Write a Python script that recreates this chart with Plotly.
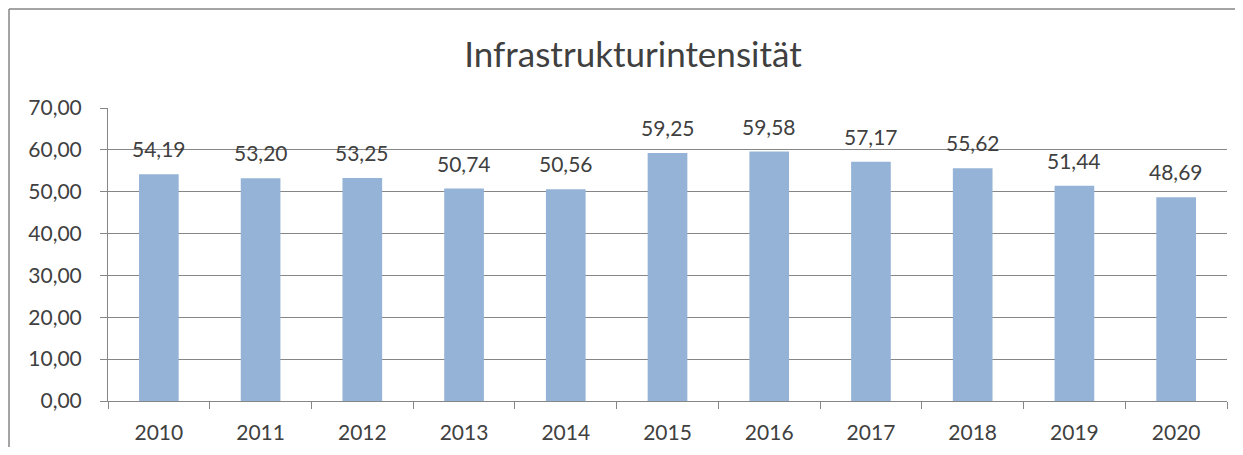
import plotly.graph_objects as go

years = ["2010", "2011", "2012", "2013", "2014", "2015", "2016", "2017", "2018", "2019", "2020"]
values = [54.19, 53.20, 53.25, 50.74, 50.56, 59.25, 59.58, 57.17, 55.62, 51.44, 48.69]
y_ticks = [0, 10, 20, 30, 40, 50, 60, 70]
title_text = "Infrastrukturintensität"

# page body has an 8px margin: figure sits at (8, 8); keep it inside the window (no scrollbars)
OFF = 8
W, H = 1243 - 2 * OFF, 455 - 2 * OFF
ML, MT = 108 - OFF, 108 - OFF
MR = (OFF + W) - 1227
MB = (OFF + H) - 401
PW, PH = W - ML - MR, H - MT - MB

FONT = "Lato, Open Sans, sans-serif"
TXT = "#404040"
GRID = "#868686"

fig = go.Figure()
fig.add_trace(go.Bar(
    x=years, y=values,
    marker=dict(color="#95B3D7", line=dict(width=0)),
    hoverinfo="skip",
))

for i, v in enumerate(values):
    fig.add_annotation(
        x=i, y=v, text=f"{v:.2f}".replace(".", ","),
        showarrow=False, yanchor="bottom", yshift=11,
        font=dict(family=FONT, size=21, color=TXT),
    )

# outer chart frame (top and left visible)
fx0 = (9 - OFF - ML) / PW
fy1 = 1 + (MT - (9 - OFF)) / PH
fig.add_shape(type="line", xref="paper", yref="paper", x0=fx0, x1=fx0, y0=-1, y1=fy1,
              line=dict(color=GRID, width=1.5))
fig.add_shape(type="line", xref="paper", yref="paper", x0=fx0, x1=1.2, y0=fy1, y1=fy1,
              line=dict(color=GRID, width=1.5))

fig.update_layout(
    width=W, height=H,
    margin=dict(l=ML, r=MR, t=MT, b=MB),
    paper_bgcolor="white", plot_bgcolor="white",
    separators=",.",
    bargap=0.61,
    showlegend=False,
    title=dict(text=title_text, x=(633 - OFF) / W, xanchor="center", y=1 - (55 - OFF) / H, yanchor="middle",
               font=dict(family=FONT, size=35, color=TXT)),
    font=dict(family=FONT, size=21, color=TXT),
)
fig.update_xaxes(
    type="category", range=[-0.5, len(years) - 0.5], automargin=False,
    tickson="boundaries", ticks="outside", ticklen=7, tickcolor=GRID, tickangle=0,
    showline=True, linecolor=GRID, linewidth=1, showgrid=False,
    tickfont=dict(family=FONT, size=21, color=TXT), ticklabelstandoff=13,
)
fig.update_yaxes(
    range=[0, 70], tickvals=y_ticks, tickformat=".2f", automargin=False,
    ticks="outside", ticklen=7, tickcolor=GRID,
    showline=True, linecolor=GRID, linewidth=1,
    showgrid=True, gridcolor=GRID, gridwidth=1, zeroline=False,
    tickfont=dict(family=FONT, size=21, color=TXT), ticklabelstandoff=14,
)

fig.write_html("out.html")
